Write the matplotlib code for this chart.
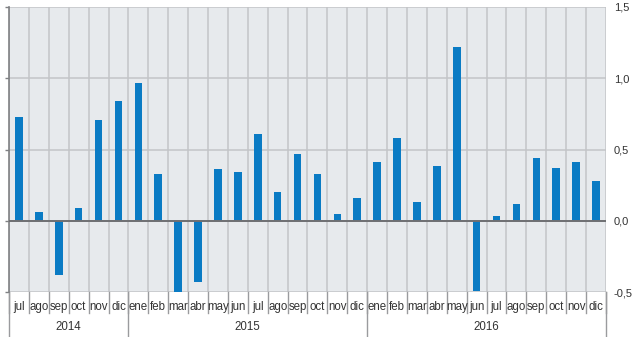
import matplotlib
matplotlib.use("Agg")
import matplotlib.pyplot as plt
import matplotlib.transforms as mtransforms

months = ["jul", "ago", "sep", "oct", "nov", "dic",
          "ene", "feb", "mar", "abr", "may", "jun", "jul", "ago", "sep", "oct", "nov", "dic",
          "ene", "feb", "mar", "abr", "may", "jun", "jul", "ago", "sep", "oct", "nov", "dic"]
values = [0.73, 0.06, -0.38, 0.09, 0.71, 0.84,
          0.97, 0.33, -0.50, -0.43, 0.36, 0.34, 0.61, 0.20, 0.47, 0.33, 0.05, 0.16,
          0.41, 0.58, 0.13, 0.385, 1.22, -0.49, 0.03, 0.12, 0.44, 0.37, 0.41, 0.28]
years = ["2014", "2015", "2016"]
year_months = [6, 12, 12]
yticks = [-0.5, 0.0, 0.5, 1.0, 1.5]
ytick_labels = ["-0,5", "0,0", "0,5", "1,0", "1,5"]

plt.rcParams["font.family"] = ["Liberation Sans", "DejaVu Sans"]

W, H = 634, 337
fig = plt.figure(figsize=(W / 100, H / 100), dpi=100)
left, right, top, bottom = 9, 606, 7, 292
ax = fig.add_axes([left / W, (H - bottom) / H, (right - left) / W, (bottom - top) / H])

bg = "#e7eaed"
grid_c = "#c3c5c8"
bar_c = "#0a7bc4"
dark = "#7f8083"
txt = "#333333"
fs = 8.3

ax.set_facecolor(bg)
n = len(values)
x = list(range(n))
ax.set_xlim(-0.5, n - 0.5)
ax.set_ylim(-0.5, 1.5)

# grid: month boundaries and 0.5 steps
for i in range(n + 1):
    ax.axvline(i - 0.5, color=grid_c, lw=1.1, zorder=1)
for yv in yticks:
    ax.axhline(yv, color=grid_c, lw=1.1, zorder=1)
ax.axhline(0, color="#6e6f72", lw=1.4, zorder=3)

ax.bar(x, values, width=0.38, color=bar_c, zorder=2)

for s in ["top", "bottom", "right"]:
    ax.spines[s].set_visible(False)
ax.spines["left"].set_color(dark)
ax.spines["left"].set_linewidth(1.2)

ax.set_xticks([])
ax.set_yticks(yticks)
ax.set_yticklabels(ytick_labels)
ax.tick_params(axis="y", which="both", left=True, right=False, labelleft=False,
               labelright=True, length=3, width=1.0, color=dark, pad=2.5,
               labelsize=8, labelcolor=txt)

# month labels and separators below the plot
trans = mtransforms.blended_transform_factory(ax.transData, ax.transAxes)
ah = bottom - top
month_drop = -21 / ah
year_drop = -46 / ah
for i, m in enumerate(months):
    ax.text(i, -15 / ah, m, transform=trans, ha="center", va="center",
            fontsize=fs, color=txt)
for i in range(n + 1):
    ax.plot([i - 0.5, i - 0.5], [0, month_drop], transform=trans, color="#9a9b9e",
            lw=1.0, clip_on=False)

start = 0
bounds = [-0.5]
for yr, cnt in zip(years, year_months):
    ax.text(start + (cnt - 1) / 2, -35 / ah, yr, transform=trans, ha="center",
            va="center", fontsize=fs, color=txt)
    start += cnt
    bounds.append(start - 0.5)
for b in bounds:
    ax.plot([b, b], [0, year_drop], transform=trans, color="#9a9b9e", lw=1.0,
            clip_on=False)

fig.savefig("out.png", dpi=100)
